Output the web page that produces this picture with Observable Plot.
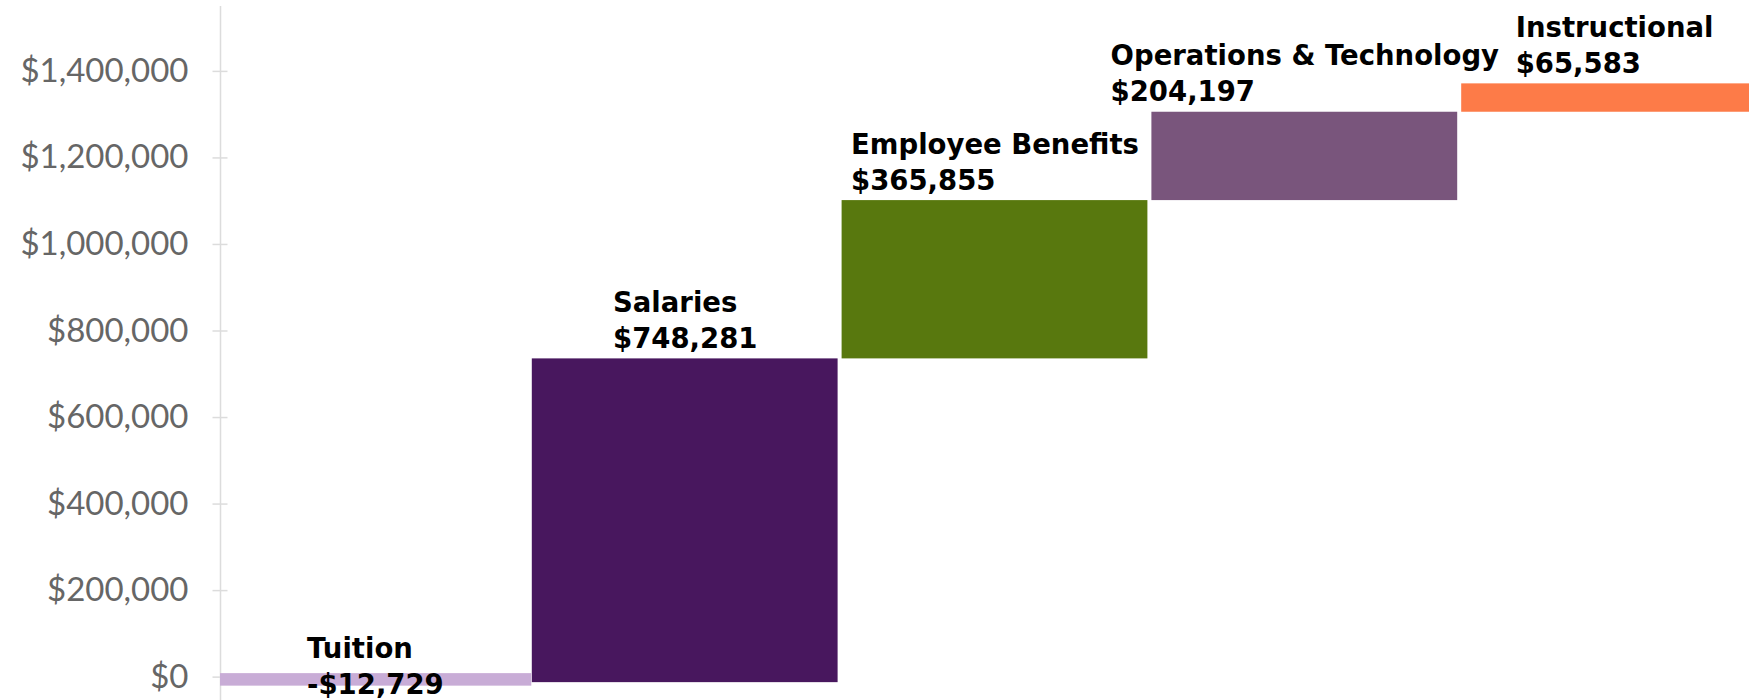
<!DOCTYPE html>
<html>
<head>
<meta charset="utf-8">
<script src="https://cdn.jsdelivr.net/npm/d3@7"></script>
<script src="https://cdn.jsdelivr.net/npm/@observablehq/plot@0.6"></script>
<style>
  html, body { margin: 0; padding: 0; background: #fff; overflow: hidden; }
  #chart svg { display: block; }
</style>
</head>
<body>
<div id="chart"></div>
<script>
// ---- data ----
const categories = ["Tuition", "Salaries", "Employee Benefits", "Operations & Technology", "Instructional"];
const changes = [-12729, 748281, 365855, 204197, 65583];
const barColors = ["#c8acd6", "#48175e", "#58780e", "#79557c", "#fd7b48"];
const yTicks = [0, 200000, 400000, 600000, 800000, 1000000, 1200000, 1400000];

// ---- derived ----
const money = v => (v < 0 ? "-" : "") + "$" + d3.format(",")(Math.abs(v));
const ends = Array.from(d3.cumsum(changes));
const rows = categories.map((c, i) => {
  const end = ends[i];
  const start = end - changes[i];
  return {category: c, i, change: changes[i], start, end, top: Math.max(start, end),
          label: `${c}\n${money(changes[i])}`};
});

const labelFont = "DejaVu Sans";
const labelSize = 27.5;
const ctx = document.createElement("canvas").getContext("2d");
ctx.font = `bold ${labelSize}px "${labelFont}"`;
const blockWidth = s => d3.max(s.split("\n"), l => ctx.measureText(l).width);

const W = 1749, H = 700;
const step = 309.8;
const marginLeft = 220;

const labelMarks = rows.map(r => Plot.text([r], {
  x: d => d.i + 0.5,
  y: d => d.change < 0 ? d.start : d.top,
  text: "label",
  textAnchor: "start",
  lineAnchor: r.change < 0 ? "middle" : "bottom",
  dx: -blockWidth(r.label) / 2,
  dy: r.change < 0 ? -13 : -11,
  lineHeight: 36 / labelSize,
  fontSize: labelSize,
  fontWeight: "bold",
  fontFamily: labelFont,
  fill: "black"
}));

const chart = Plot.plot({
  width: W,
  height: H,
  marginLeft,
  marginRight: 0,
  marginTop: 6,
  marginBottom: 0,
  style: {background: "white", overflow: "hidden", fontFamily: "Lato"},
  x: {type: "linear", domain: [0, 5], range: [marginLeft, marginLeft + 5 * step], axis: null},
  y: {domain: [-54000, 1550000]},
  color: {domain: categories, range: barColors},
  marks: [
    Plot.ruleX([0], {stroke: "#dcdcdc", strokeWidth: 1.5}),
    Plot.axisY(yTicks, {tickSize: 15, dx: 7.5, tickFormat: () => "", stroke: "#dcdcdc", strokeWidth: 1.5}),
    Plot.axisY(yTicks, {tickSize: 0, tickPadding: 32, tickFormat: d => money(d),
      fontSize: 33, fontFamily: "Lato", fontWeight: 400, fill: "#666"}),
    Plot.rectY(rows, {
      x1: "i", x2: d => d.i + 1, y1: "start", y2: "end",
      fill: "category", insetLeft: 2, insetRight: 2, clip: true
    }),
    // thin bars get a stroke of their own colour so they stay visible
    Plot.rectY(rows.filter(d => Math.abs(d.change) < 30000), {
      x1: "i", x2: d => d.i + 1, y1: "start", y2: "end",
      fill: "category", stroke: "category", strokeWidth: 7, insetLeft: 2, insetRight: 2, clip: true
    }),
    ...labelMarks
  ]
});
document.getElementById("chart").appendChild(chart);
</script>
</body>
</html>
